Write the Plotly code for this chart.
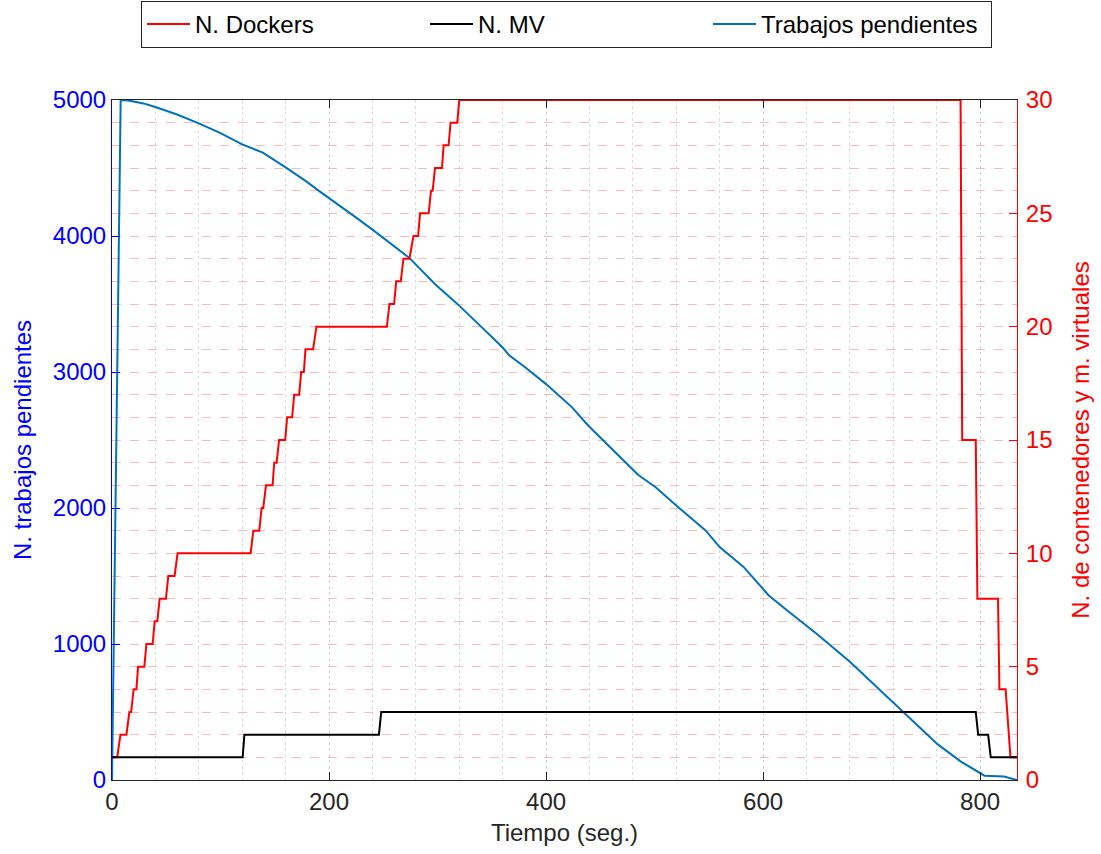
import plotly.graph_objects as go

# ---- data ----
docker_t = [0, 4.8, 7.8, 13.3, 16, 17.6, 20, 22.5, 24, 29.8, 31.7, 37.5, 39.3, 41.8, 43.9,
            49.7, 51.9, 57.7, 60.4, 127.8, 130.2, 135.7, 137.9, 139.4, 141.9, 148, 149.5,
            151.7, 154, 159.6, 161.4, 166, 167.9, 172.5, 174.3, 176.8, 178.3, 185.3, 188.4,
            253.3, 255.7, 260, 261.9, 266.1, 268.6, 274.1, 277.8, 282.1, 283.9, 291.8, 294,
            295.5, 297.7, 304.1, 305.6, 310.2, 312, 318.2, 320, 782, 783.5, 796, 797.5,
            816.5, 817.8, 823.5, 828, 834]
docker_n = [1, 1, 2, 2, 3, 3, 4, 4, 5, 5, 6, 6, 7, 7, 8,
            8, 9, 9, 10, 10, 11, 11, 12, 12, 13, 13, 14,
            14, 15, 15, 16, 16, 17, 17, 18, 18, 19, 19, 20,
            20, 21, 21, 22, 22, 23, 23, 24, 24, 25, 25, 26,
            26, 27, 27, 28, 28, 29, 29, 30, 30, 15, 15, 8,
            8, 4, 4, 1, 1]

mv_t = [0, 120.4, 122, 246, 248.1, 796, 798.2, 807.4, 809.8, 834]
mv_n = [1, 1, 2, 2, 3, 3, 2, 2, 1, 1]

jobs_t = [0, 8, 15, 29, 40, 60, 80, 100, 120, 139, 160, 179, 191, 200, 213, 226, 240, 274,
          298, 317, 338, 360, 366, 381, 400, 424, 439, 461, 485, 501, 520, 547, 560, 582,
          605, 620, 634, 651, 680, 729, 761, 782, 799, 804, 816, 822, 834]
jobs_n = [0, 5000, 4997, 4975, 4949, 4893, 4828, 4756, 4674, 4613, 4505, 4402, 4330, 4280,
          4206, 4130, 4047, 3839, 3644, 3510, 3350, 3180, 3123, 3033, 2911, 2740, 2605, 2434,
          2243, 2153, 2018, 1835, 1713, 1567, 1359, 1261, 1175, 1065, 870, 504, 262, 137, 51,
          32, 27, 25, 0]

x_ticks = [0, 200, 400, 600, 800]
left_ticks = [0, 1000, 2000, 3000, 4000, 5000]
right_ticks = [0, 5, 10, 15, 20, 25, 30]

FONT = "Liberation Sans, Arial, Helvetica, sans-serif"
FS = 24
BLUE_AX = "#0000ff"
RED_AX = "#ff0000"
GRAY_AX = "#262626"
RED_GRID = "#ffb8b8"

fig = go.Figure()
fig.add_trace(go.Scatter(x=docker_t, y=docker_n, mode="lines", name="N. Dockers",
                         line=dict(color="#ff0000", width=2), yaxis="y2"))
fig.add_trace(go.Scatter(x=mv_t, y=mv_n, mode="lines", name="N. MV",
                         line=dict(color="#000000", width=2), yaxis="y2"))
fig.add_trace(go.Scatter(x=jobs_t, y=jobs_n, mode="lines", name="Trabajos pendientes",
                         line=dict(color="#0072bd", width=2), yaxis="y"))

fig.update_layout(
    width=1101, height=854,
    margin=dict(l=112, r=82, t=100, b=72),
    paper_bgcolor="white", plot_bgcolor="white",
    font=dict(family=FONT, size=FS, color=GRAY_AX),
    showlegend=True,
    legend=dict(orientation="h", xref="container", yref="container",
                x=141 / 1101, y=0.999, xanchor="left", yanchor="top",
                bordercolor="#262626", borderwidth=1, bgcolor="white",
                entrywidth=225, entrywidthmode="pixels",
                font=dict(family=FONT, size=FS, color="#000000"),
                tracegroupgap=0, itemwidth=43),
    xaxis=dict(range=[0, 834], tickvals=x_ticks, ticks="inside", ticklen=8,
               tickcolor=GRAY_AX, showline=True, linecolor=GRAY_AX, linewidth=1,
               mirror="ticks", zeroline=False,
               showgrid=True, gridcolor="#cfcfcf", griddash="dot", gridwidth=1,
               minor=dict(dtick=40, showgrid=True, gridcolor="#dcdcdc", griddash="dot", gridwidth=1),
               tickfont=dict(color=GRAY_AX, size=FS),
               title=dict(text="Tiempo (seg.)", font=dict(color=GRAY_AX, size=FS), standoff=10)),
    yaxis=dict(range=[0, 5000], tickvals=left_ticks, ticks="inside", ticklen=8,
               tickcolor=BLUE_AX, showline=True, linecolor=BLUE_AX, linewidth=1,
               showgrid=False, zeroline=False,
               tickfont=dict(color=BLUE_AX, size=FS),
               title=dict(text="N. trabajos pendientes", font=dict(color=BLUE_AX, size=FS), standoff=14)),
    yaxis2=dict(range=[0, 30], tickvals=right_ticks, ticks="inside", ticklen=8,
                tickcolor=RED_AX, showline=True, linecolor=RED_AX, linewidth=1,
                overlaying="y", side="right", zeroline=False, ticklabelstandoff=3,
                showgrid=True, gridcolor=RED_GRID, griddash="dash", gridwidth=1,
                minor=dict(dtick=1, showgrid=True, gridcolor=RED_GRID, griddash="dash", gridwidth=1),
                tickfont=dict(color=RED_AX, size=FS),
                title=dict(text="N. de contenedores y m. virtuales", font=dict(color=RED_AX, size=FS), standoff=20)),
)

fig.write_html("out.html", config={"displayModeBar": False},
               post_script="document.body.style.margin='0';")
